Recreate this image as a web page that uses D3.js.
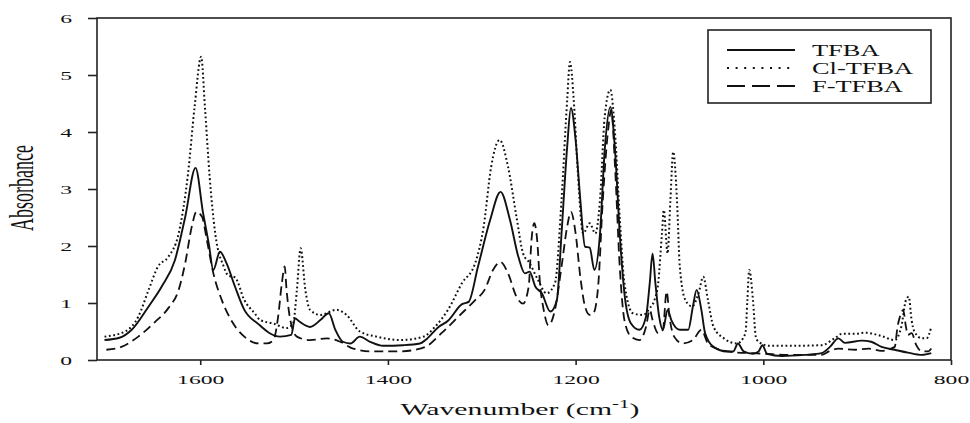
<!DOCTYPE html>
<html>
<head>
<meta charset="utf-8">
<script src="https://cdn.jsdelivr.net/npm/d3@7"></script>
<style>
  html, body { margin: 0; padding: 0; background: #fff; }
  svg { display: block; }
  text { font-family: 'Liberation Serif', 'Times New Roman', serif; fill: #111; }
</style>
</head>
<body>
<svg id="chart" width="970" height="423"></svg>
<script>
// series names as shown in the legend
const seriesNames = ['TFBA', 'Cl-TFBA', 'F-TFBA'];

// [wavenumber, absorbance]
const tfba = [
  [1702, 0.35], [1686, 0.39], [1673, 0.53], [1655, 0.94], [1641, 1.29], [1627, 1.75],
  [1616, 2.51], [1605, 3.37], [1597, 2.58], [1591, 2.05], [1586, 1.58], [1579, 1.90],
  [1572, 1.70], [1563, 1.29], [1553, 0.88], [1538, 0.63], [1526, 0.47], [1515, 0.41],
  [1503, 0.44], [1499, 0.73], [1494, 0.67], [1483, 0.58], [1472, 0.70], [1463, 0.82],
  [1456, 0.53], [1448, 0.32], [1440, 0.29], [1430, 0.41], [1419, 0.32], [1405, 0.25],
  [1384, 0.26], [1366, 0.29], [1360, 0.35], [1346, 0.58], [1336, 0.69], [1321, 0.98],
  [1314, 1.02], [1304, 1.64], [1291, 2.46], [1280, 2.95], [1270, 2.46], [1261, 1.81],
  [1254, 1.52], [1249, 1.55], [1243, 1.29], [1236, 1.17], [1227, 0.85], [1220, 1.05],
  [1215, 2.22], [1209, 3.74], [1205, 4.42], [1200, 3.86], [1195, 2.81], [1190, 1.99],
  [1185, 1.97], [1180, 1.58], [1174, 2.22], [1169, 3.68], [1163, 4.44], [1158, 3.68],
  [1153, 2.22], [1148, 1.17], [1141, 0.64], [1132, 0.53], [1125, 0.76], [1121, 1.35],
  [1118, 1.87], [1115, 1.35], [1111, 0.76], [1107, 0.53], [1102, 0.88], [1098, 0.70],
  [1089, 0.53], [1080, 0.53], [1075, 0.94], [1071, 1.23], [1066, 0.88], [1062, 0.47],
  [1053, 0.23], [1039, 0.15], [1032, 0.15], [1027, 0.29], [1021, 0.15], [1011, 0.11],
  [1005, 0.15], [1001, 0.26], [996, 0.11], [980, 0.07], [956, 0.09], [938, 0.12],
  [929, 0.23], [920, 0.38], [913, 0.30], [895, 0.34], [885, 0.32], [874, 0.23],
  [860, 0.18], [846, 0.13], [831, 0.09], [821, 0.12],
];

const clTfba = [
  [1702, 0.41], [1680, 0.50], [1666, 0.76], [1655, 1.23], [1645, 1.64], [1634, 1.81],
  [1623, 2.22], [1613, 3.27], [1606, 4.44], [1599, 5.32], [1595, 4.44], [1590, 3.22],
  [1584, 2.22], [1575, 1.64], [1570, 1.48], [1563, 1.45], [1553, 1.05], [1542, 0.82],
  [1536, 0.70], [1522, 0.64], [1508, 0.56], [1501, 0.64], [1497, 1.23], [1493, 1.96],
  [1488, 1.23], [1483, 0.88], [1472, 0.79], [1455, 0.88], [1444, 0.79], [1430, 0.50],
  [1412, 0.41], [1387, 0.35], [1362, 0.41], [1350, 0.58], [1336, 0.88], [1321, 1.35],
  [1307, 1.70], [1298, 2.34], [1290, 3.39], [1281, 3.86], [1272, 3.39], [1263, 2.51],
  [1256, 1.87], [1249, 1.70], [1240, 1.40], [1231, 1.17], [1222, 1.35], [1215, 2.81],
  [1209, 4.56], [1206, 5.23], [1202, 4.56], [1198, 3.39], [1192, 2.22], [1185, 2.40],
  [1179, 2.22], [1174, 2.81], [1169, 4.27], [1163, 4.74], [1158, 3.98], [1153, 2.51],
  [1148, 1.35], [1139, 0.82], [1128, 0.79], [1121, 0.91], [1116, 1.05], [1112, 1.35],
  [1108, 2.22], [1106, 2.63], [1102, 1.87], [1099, 2.81], [1096, 3.65], [1092, 2.81],
  [1089, 1.64], [1083, 1.05], [1076, 0.94], [1069, 1.17], [1064, 1.46], [1059, 1.05],
  [1053, 0.58], [1042, 0.38], [1028, 0.29], [1019, 0.47], [1017, 1.05], [1015, 1.58],
  [1011, 1.05], [1008, 0.41], [1005, 0.32], [994, 0.25], [966, 0.25], [938, 0.26],
  [924, 0.38], [916, 0.46], [902, 0.46], [892, 0.48], [874, 0.42], [860, 0.35],
  [853, 0.58], [848, 1.05], [845, 1.11], [842, 0.70], [839, 0.50], [831, 0.38],
  [826, 0.38], [821, 0.58],
];

const fTfba = [
  [1700, 0.18], [1684, 0.23], [1666, 0.41], [1648, 0.67], [1634, 0.91], [1623, 1.23],
  [1616, 1.70], [1609, 2.34], [1604, 2.60], [1598, 2.51], [1593, 2.11], [1586, 1.52],
  [1577, 1.05], [1566, 0.67], [1553, 0.41], [1538, 0.29], [1529, 0.29], [1522, 0.35],
  [1517, 0.76], [1513, 1.35], [1510, 1.64], [1508, 1.23], [1504, 0.70], [1497, 0.41],
  [1483, 0.35], [1465, 0.38], [1451, 0.32], [1437, 0.20], [1416, 0.15], [1387, 0.15],
  [1366, 0.20], [1360, 0.23], [1343, 0.47], [1325, 0.76], [1307, 1.05], [1297, 1.23],
  [1288, 1.58], [1280, 1.72], [1272, 1.52], [1263, 1.11], [1256, 0.99], [1250, 1.29],
  [1247, 2.11], [1244, 2.40], [1241, 2.11], [1238, 1.35], [1234, 0.88], [1229, 0.61],
  [1222, 0.88], [1215, 1.64], [1209, 2.34], [1205, 2.60], [1200, 2.22], [1195, 1.46],
  [1190, 0.94], [1185, 0.79], [1181, 0.82], [1176, 1.29], [1171, 2.81], [1165, 4.09],
  [1162, 4.39], [1158, 3.39], [1153, 1.64], [1148, 0.70], [1141, 0.41], [1132, 0.35],
  [1125, 0.58], [1121, 0.88], [1118, 0.70], [1112, 0.47], [1107, 0.53], [1103, 1.20],
  [1100, 0.76], [1095, 0.41], [1086, 0.29], [1075, 0.35], [1066, 0.53], [1059, 0.29],
  [1046, 0.18], [1028, 0.13], [1011, 0.12], [999, 0.11], [973, 0.09], [938, 0.09],
  [930, 0.15], [920, 0.20], [902, 0.18], [888, 0.20], [874, 0.16], [860, 0.23],
  [857, 0.58], [853, 0.82], [851, 0.88], [848, 0.58], [846, 0.44], [842, 0.47],
  [837, 0.26], [831, 0.15], [824, 0.15], [821, 0.20],
];

const xTicks = [1600, 1400, 1200, 1000, 800];
const yTicks = [0, 1, 2, 3, 4, 5, 6];

document.addEventListener('DOMContentLoaded', () => {
  const svg = d3.select('#chart');
  const box = { left: 97, right: 951, top: 18, bottom: 360 };
  const stretch = 1.75; // the picture's text is drawn wide
  const plain = d3.format('d');

  const x = d3.scaleLinear().domain([1710, 800]).range([box.left, box.right]);
  const y = d3.scaleLinear().domain([0, 6]).range([box.bottom, box.top]);

  const series = [
    { name: seriesNames[0], values: tfba, dash: null, legendDash: null, width: 1.9 },
    { name: seriesNames[1], values: clTfba, dash: '1.8,2.6', legendDash: '2,6.6', width: 2 },
    { name: seriesNames[2], values: fTfba, dash: '9,5', legendDash: '18,7', width: 1.8 },
  ];

  const line = d3.line()
    .x(d => x(d[0]))
    .y(d => y(d[1]))
    .curve(d3.curveMonotoneX);

  // curves
  svg.append('g')
    .selectAll('path')
    .data(series)
    .enter()
    .append('path')
    .attr('d', d => line(d.values))
    .attr('fill', 'none')
    .attr('stroke', '#111')
    .attr('stroke-width', d => d.width)
    .attr('stroke-dasharray', d => d.dash)
    .attr('stroke-linejoin', 'round');

  // frame
  svg.append('rect')
    .attr('x', box.left)
    .attr('y', box.top)
    .attr('width', box.right - box.left)
    .attr('height', box.bottom - box.top)
    .attr('fill', 'none')
    .attr('stroke', '#222')
    .attr('stroke-width', 1.6);

  // y axis
  const yAxis = svg.append('g')
    .attr('transform', `translate(${box.left},0)`)
    .call(d3.axisLeft(y).tickValues(yTicks).tickFormat(plain).tickSize(9).tickSizeOuter(0));
  yAxis.select('.domain').remove();
  yAxis.selectAll('line').attr('stroke', '#222').attr('stroke-width', 1.6);
  yAxis.selectAll('text')
    .attr('x', -25 / stretch)
    .attr('dy', '0.33em')
    .attr('transform', `scale(${stretch},1)`)
    .style('font-family', "'Liberation Serif', serif")
    .style('font-size', '13.5px')
    .attr('fill', '#111');

  // x axis
  const xAxis = svg.append('g')
    .attr('transform', `translate(0,${box.bottom})`)
    .call(d3.axisBottom(x).tickValues(xTicks).tickFormat(plain).tickSize(5).tickSizeOuter(0));
  xAxis.select('.domain').remove();
  xAxis.selectAll('line').attr('stroke', '#222').attr('stroke-width', 1.6);
  xAxis.selectAll('text')
    .attr('y', 24.5)
    .attr('dy', 0)
    .attr('transform', `scale(${stretch},1)`)
    .style('font-family', "'Liberation Serif', serif")
    .style('font-size', '13.5px')
    .attr('fill', '#111');

  // axis titles
  const xTitle = svg.append('text')
    .attr('transform', 'translate(520,415) scale(1.75,1)')
    .attr('text-anchor', 'middle')
    .style('font-size', '17px');
  xTitle.append('tspan').text('Wavenumber (cm');
  xTitle.append('tspan').attr('dy', -7).style('font-size', '12px').text('-1');
  xTitle.append('tspan').attr('dy', 7).text(')');

  svg.append('text')
    .attr('transform', 'translate(33,188) scale(1.9,1) rotate(-90)')
    .attr('text-anchor', 'middle')
    .style('font-size', '18px')
    .text('Absorbance');

  // legend
  const legend = svg.append('g');
  legend.append('rect')
    .attr('x', 708)
    .attr('y', 30)
    .attr('width', 223)
    .attr('height', 73)
    .attr('fill', '#fff')
    .attr('stroke', '#222')
    .attr('stroke-width', 1.6);

  const item = legend.selectAll('g.item')
    .data(series)
    .enter()
    .append('g')
    .classed('item', true)
    .attr('transform', (d, i) => `translate(0,${50 + i * 18})`);

  item.append('line')
    .attr('x1', 727)
    .attr('x2', 795)
    .attr('stroke', '#111')
    .attr('stroke-width', d => d.width)
    .attr('stroke-dasharray', d => d.legendDash);

  item.append('text')
    .attr('transform', 'translate(812,5.5) scale(1.6,1)')
    .style('font-size', '16.5px')
    .text(d => d.name);
});
</script>
</body>
</html>
